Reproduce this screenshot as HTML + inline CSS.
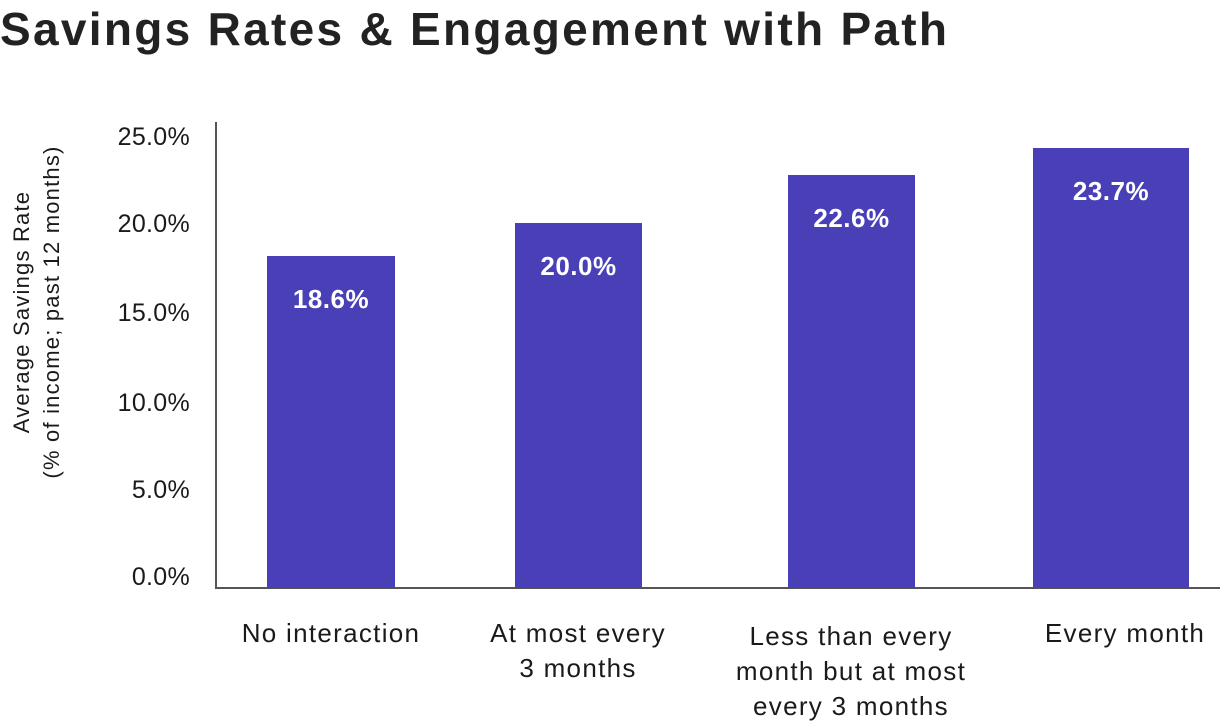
<!DOCTYPE html>
<html><head><meta charset="utf-8"><style>
html,body{margin:0;padding:0;background:#fff;}
body{width:1220px;height:724px;position:relative;overflow:hidden;font-family:"Liberation Sans",sans-serif;color:#1a1a1a;}
.t{position:absolute;left:0;top:2px;font-size:46px;font-weight:bold;color:#222;letter-spacing:2.3px;white-space:nowrap;}
.yl{position:absolute;font-size:25px;text-align:right;width:110px;left:80px;letter-spacing:0.3px;}
.bar{position:absolute;background:#4940b8;}
.bv{position:absolute;color:#fff;font-weight:bold;font-size:26px;text-align:center;width:100%;letter-spacing:0.5px;}
.xl{position:absolute;font-size:26px;text-align:center;line-height:35px;width:320px;letter-spacing:1.3px;}
</style></head><body>
<div class="t">Savings Rates &amp; Engagement with Path</div>
<div style="position:absolute;left:215px;top:122px;width:2px;height:467px;background:#555"></div>
<div style="position:absolute;left:215px;top:587px;width:1005px;height:2px;background:#555"></div>
<div class="yl" style="top:123px">25.0%</div>
<div class="yl" style="top:210px">20.0%</div>
<div class="yl" style="top:299px">15.0%</div>
<div class="yl" style="top:389px">10.0%</div>
<div class="yl" style="top:476px">5.0%</div>
<div class="yl" style="top:563px">0.0%</div>
<div style="position:absolute;left:37px;top:312px;transform:translate(-50%,-50%) rotate(-90deg);font-size:22px;text-align:center;line-height:30px;white-space:nowrap;letter-spacing:1.2px">Average Savings Rate<br>(% of income; past 12 months)</div>
<div class="bar" style="left:267px;top:256px;width:128px;height:332px"><div class="bv" style="top:28px">18.6%</div></div>
<div class="bar" style="left:515px;top:223px;width:127px;height:365px"><div class="bv" style="top:28px">20.0%</div></div>
<div class="bar" style="left:788px;top:175px;width:127px;height:413px"><div class="bv" style="top:28px">22.6%</div></div>
<div class="bar" style="left:1033px;top:148px;width:156px;height:440px"><div class="bv" style="top:28px">23.7%</div></div>
<div class="xl" style="left:171px;top:616px">No interaction</div>
<div class="xl" style="left:418px;top:616px">At most every<br>3 months</div>
<div class="xl" style="left:691px;top:619px">Less than every<br>month but at most<br>every 3 months</div>
<div class="xl" style="left:965px;top:616px">Every month</div>
</body></html>
